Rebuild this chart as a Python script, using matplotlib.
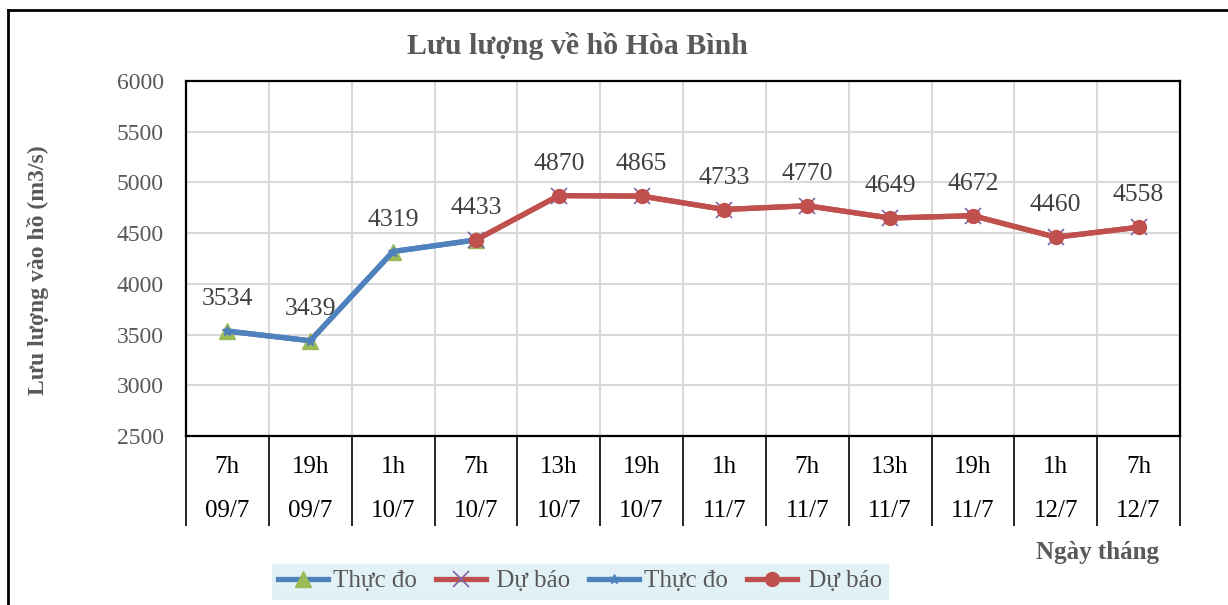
import matplotlib

matplotlib.use("Agg")
import matplotlib.pyplot as plt
from matplotlib.lines import Line2D
import numpy as np

# data
hours = ["7h", "19h", "1h", "7h", "13h", "19h", "1h", "7h", "13h", "19h", "1h", "7h"]
dates = ["09/7", "09/7", "10/7", "10/7", "10/7", "10/7", "11/7", "11/7", "11/7", "11/7", "12/7", "12/7"]
thuc_do = [3534, 3439, 4319, 4433]                                  # observed, points 0..3
du_bao = [4433, 4870, 4865, 4733, 4770, 4649, 4672, 4460, 4558]     # forecast, points 3..11
obs_idx = np.arange(0, 4)
fc_idx = np.arange(3, 12)
y_ticks = np.arange(2500, 6001, 500)

BLUE = "#4F81BD"
RED = "#C0504D"
GREEN = "#9BBB59"
PURPLE = "#8064A2"
GREY = "#595959"
SERIF = "Liberation Serif"

plt.rcParams["font.family"] = [SERIF, "DejaVu Serif"]

fig = plt.figure(figsize=(12.28, 6.05), dpi=100)
ax = fig.add_axes([186 / 1228, 1 - 436 / 605, (1180 - 186) / 1228, (436 - 81) / 605])

lw = 3.8
ax.plot(obs_idx, thuc_do, color=BLUE, lw=lw, marker="^", ms=11, mfc=GREEN, mec=GREEN,
        label="Thực đo", zorder=3)
ax.plot(fc_idx, du_bao, color=RED, lw=lw, marker="x", ms=12, mec=PURPLE, mew=1.2,
        label=" Dự báo", zorder=3)
ax.plot(obs_idx, thuc_do, color=BLUE, lw=lw, marker="*", ms=7, mfc=BLUE, mec=BLUE,
        label="Thực đo", zorder=4)
ax.plot(fc_idx, du_bao, color=RED, lw=lw, marker="o", ms=10, mfc=RED, mec=RED,
        label=" Dự báo", zorder=4)

# data labels, one per point
all_idx = list(obs_idx) + list(fc_idx[1:])
all_val = thuc_do + du_bao[1:]
for i, v in zip(all_idx, all_val):
    ax.annotate(str(v), (i, v), xytext=(0, 23), textcoords="offset points",
                ha="center", va="center", fontsize=18.5, color="#404040")

ax.set_xlim(-0.5, 11.5)
ax.set_ylim(2500, 6000)
ax.set_yticks(y_ticks)
ax.set_yticklabels([str(t) for t in y_ticks], fontsize=17, color=GREY)
ax.tick_params(axis="y", length=0, pad=16)

# category boundaries: gridlines inside, separators below the axis
ax.set_xticks(np.arange(-0.5, 12, 1), minor=True)
ax.set_xticks([])
ax.tick_params(axis="x", which="minor", length=65, width=1.2, color="black", direction="out")
ax.grid(True, which="minor", axis="x", color="#D9D9D9", lw=1.5)
ax.grid(True, which="major", axis="y", color="#D9D9D9", lw=1.5)
ax.set_axisbelow(True)
for s in ax.spines.values():
    s.set_linewidth(1.6)
    s.set_color("black")

trans = ax.get_xaxis_transform()
for i, (h, d) in enumerate(zip(hours, dates)):
    ax.text(i, -0.088, h, transform=trans, ha="center", va="center", fontsize=18, color="black")
    ax.text(i, -0.21, d, transform=trans, ha="center", va="center", fontsize=18, color="black")

fig.text(577 / 1228, 1 - 46 / 605, "Lưu lượng về hồ Hòa Bình", ha="center", va="center",
         fontsize=21.5, fontweight="bold", color=GREY)
fig.text(38 / 1228, 1 - 270 / 605, "Lưu lượng vào hồ (m3/s)", rotation=90, ha="center",
         va="center", fontsize=17, fontweight="bold", color=GREY)
fig.text(1097 / 1228, 1 - 553 / 605, "Ngày tháng", ha="center", va="center",
         fontsize=18, fontweight="bold", color=GREY)

leg = fig.legend(loc="center", bbox_to_anchor=(580 / 1228, 1 - 581 / 605), ncol=4,
                 frameon=True, fontsize=18, handlelength=2.0, handletextpad=0.2,
                 columnspacing=0.75, borderpad=0.25, fancybox=False)
leg.get_frame().set_facecolor("#DBEEF4")
leg.get_frame().set_edgecolor("#DBEEF4")
for t in leg.get_texts():
    t.set_color(GREY)

# outer chart border (left and top edges visible)
fig.add_artist(Line2D([8 / 1228, 8 / 1228], [0, 1 - 10 / 605], transform=fig.transFigure,
                      color="black", lw=2))
fig.add_artist(Line2D([8 / 1228, 1], [1 - 10 / 605, 1 - 10 / 605], transform=fig.transFigure,
                      color="black", lw=2))

fig.savefig("out.png", dpi=100)
